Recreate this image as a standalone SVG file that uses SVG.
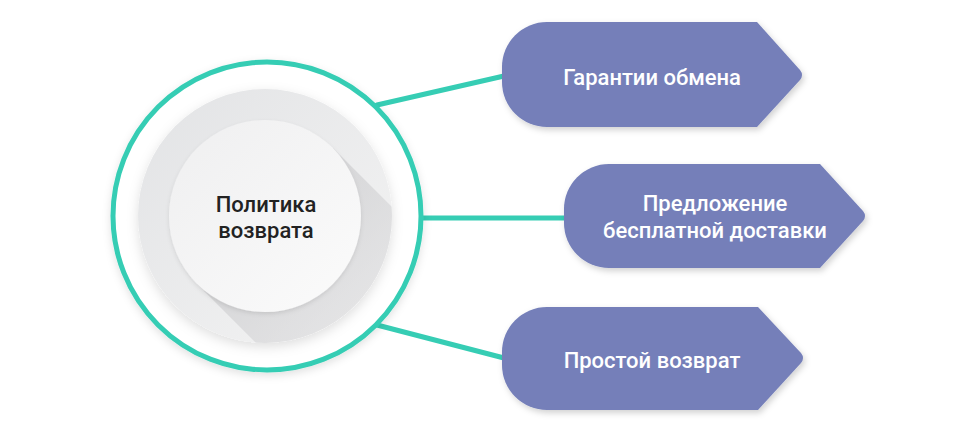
<svg xmlns="http://www.w3.org/2000/svg" width="974" height="431" viewBox="0 0 974 431">
<defs>
<style>
.conn{stroke:#36cdb4;stroke-width:5;fill:none;stroke-linecap:round}
.box{fill:#747fb9;filter:url(#bshadow)}
.btxt{font-family:Roboto,"Liberation Sans",sans-serif;font-size:22px;font-weight:500;fill:#ffffff;text-anchor:middle}
.ctxt{font-family:Roboto,"Liberation Sans",sans-serif;font-size:22px;font-weight:500;fill:#222222;text-anchor:middle}
</style>
<filter id="bshadow" x="-10%" y="-20%" width="120%" height="140%">
<feDropShadow dx="2" dy="3" stdDeviation="3" flood-color="#000" flood-opacity="0.18"/>
</filter>
<filter id="ring" x="-20%" y="-20%" width="140%" height="140%">
<feDropShadow dx="0" dy="3" stdDeviation="4" flood-color="#000" flood-opacity="0.12"/>
</filter>
<filter id="pshadow" x="-20%" y="-20%" width="140%" height="140%">
<feDropShadow dx="0" dy="4" stdDeviation="6" flood-color="#000" flood-opacity="0.13"/>
</filter>
<filter id="dshadow" x="-20%" y="-20%" width="140%" height="140%">
<feDropShadow dx="0" dy="2" stdDeviation="2" flood-color="#000" flood-opacity="0.10"/>
</filter>
<linearGradient id="plate" x1="0" y1="0" x2="1" y2="1">
<stop offset="0" stop-color="#e2e3e5"/>
<stop offset="1" stop-color="#f4f4f4"/>
</linearGradient>
<linearGradient id="disk" x1="0" y1="0" x2="1" y2="1">
<stop offset="0" stop-color="#efeff0"/>
<stop offset="1" stop-color="#fbfbfb"/>
</linearGradient>
<linearGradient id="lshadow" x1="0" y1="0" x2="1" y2="1">
<stop offset="0" stop-color="#c4c4c6" stop-opacity="0.85"/>
<stop offset="0.6" stop-color="#dcdcde" stop-opacity="0.45"/>
<stop offset="1" stop-color="#eeeeee" stop-opacity="0"/>
</linearGradient>
<clipPath id="plateClip"><circle cx="265" cy="216" r="127"/></clipPath>
</defs>

<g id="connectors">
<line class="conn" x1="377" y1="105" x2="504" y2="76"/>
<line class="conn" x1="422" y1="218" x2="566" y2="218"/>
<line class="conn" x1="377" y1="325" x2="504" y2="358"/>
</g>

<g id="center">
<circle cx="267" cy="216" r="154" fill="#ffffff" stroke="#36cdb4" stroke-width="5" filter="url(#ring)"/>
<circle cx="265" cy="216" r="127" fill="url(#plate)" filter="url(#pshadow)"/>
<g clip-path="url(#plateClip)">
<polygon points="333,148 533,348 397,484 197,284" fill="url(#lshadow)"/>
</g>
<circle cx="265" cy="216" r="96" fill="url(#disk)" filter="url(#dshadow)"/>
<text class="ctxt" x="266" y="212">Политика</text>
<text class="ctxt" x="266" y="238">возврата</text>
</g>

<g id="node1">
<path class="box" d="M547 22 H757 L800 70 Q804 75 800 80 L757 127 H547 A45 45 0 0 1 502 82 V67 A45 45 0 0 1 547 22 Z"/>
<text class="btxt" x="652" y="85">Гарантии обмена</text>
</g>

<g id="node2">
<path class="box" d="M609 164 H820 L863 211 Q867 216 863 221 L820 268 H609 A45 45 0 0 1 564 223 V209 A45 45 0 0 1 609 164 Z"/>
<text class="btxt" x="715" y="211">Предложение</text>
<text class="btxt" x="715" y="238">бесплатной доставки</text>
</g>

<g id="node3">
<path class="box" d="M547 307 H758 L801 353 Q805 358 801 363 L758 410 H547 A45 45 0 0 1 502 365 V352 A45 45 0 0 1 547 307 Z"/>
<text class="btxt" x="652" y="368">Простой возврат</text>
</g>
</svg>
